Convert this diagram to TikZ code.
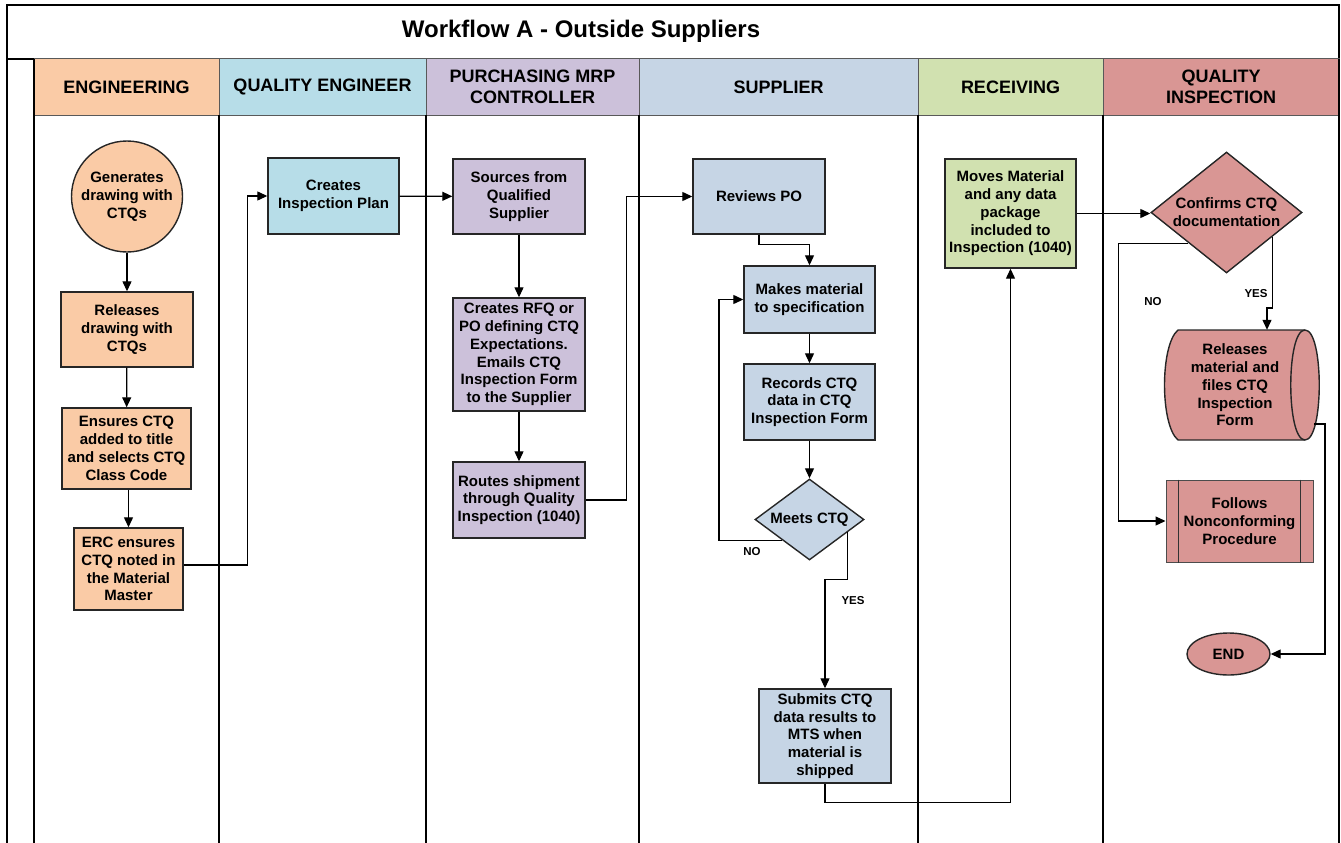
\documentclass[tikz,border=0pt]{standalone}
\usepackage{fontspec}
\setmainfont{Liberation Sans}
\usetikzlibrary{shapes.geometric,arrows.meta,calc}
\definecolor{cEng}{HTML}{FACBA6}
\definecolor{cQE}{HTML}{B7DDE8}
\definecolor{cPur}{HTML}{CCC1DA}
\definecolor{cSup}{HTML}{C6D5E5}
\definecolor{cRec}{HTML}{D1E1B0}
\definecolor{cQI}{HTML}{D99694}
\newcommand\bodyf{\fontsize{15}{17.8}\selectfont\bfseries}
\newcommand\hdrf{\fontsize{18}{21.5}\selectfont\bfseries}
\newcommand\lblf{\fontsize{11.5}{13}\selectfont\bfseries}
\begin{document}
\begin{tikzpicture}[x=1pt,y=-1pt,
  box/.style={draw=black!85, line width=1.4pt, align=center, font=\bodyf, inner sep=0pt},
  hdr/.style={draw=black!65, line width=1pt, align=center, font=\hdrf, minimum height=56pt, inner sep=0pt},
  conn/.style={line width=1.2pt, black},
  arr/.style={conn, -{Triangle[length=10pt,width=9pt]}},
  lbl/.style={font=\lblf, inner sep=0pt},
  lane/.style={line width=1.2pt, black}]
\useasboundingbox (0,0) rectangle (1341,843);

% frame and title
\draw[lane] (7,5) rectangle (1339,59);
\node[font=\fontsize{24}{28}\selectfont\bfseries] (title) at (581,31) {Workflow A - Outside Suppliers};

% lane headers
\node[hdr, fill=cEng, minimum width=185pt] (hEng) at (126.5,87) {ENGINEERING};
\node[hdr, fill=cQE, minimum width=207pt] (hQE) at (322.5,87) {QUALITY ENGINEER};
\node[hdr, fill=cPur, minimum width=213pt] (hPur) at (532.5,87) {PURCHASING MRP\\CONTROLLER};
\node[hdr, fill=cSup, minimum width=279pt] (hSup) at (778.5,87) {SUPPLIER};
\node[hdr, fill=cRec, minimum width=185pt] (hRec) at (1010.5,87) {RECEIVING};
\node[hdr, fill=cQI, minimum width=236pt] (hQI) at (1221,87) {QUALITY\\INSPECTION};

% lane lines
\draw[lane, line width=1.6pt] (7,59) -- (7,843);
\draw[lane] (34,59) -- (34,843);
\draw[lane] (1339,59) -- (1339,843);
\foreach \x in {219,426,639,918,1103} \draw[lane] (\x,115) -- (\x,843);

% ENGINEERING
\node[box, circle, fill=cEng, minimum size=111pt] (gen) at (127,196.5) {Generates\\drawing with\\CTQs};
\node[box, fill=cEng, minimum width=132pt, minimum height=75pt] (rel) at (127,329.5) {Releases\\drawing with\\CTQs};
\node[box, fill=cEng, minimum width=129pt, minimum height=81pt] (ens) at (126.5,448.5) {Ensures CTQ\\added to title\\and selects CTQ\\Class Code};
\node[box, fill=cEng, minimum width=109pt, minimum height=82pt] (erc) at (128.5,569) {ERC ensures\\CTQ noted in\\the Material\\Master};

% QUALITY ENGINEER
\node[box, fill=cQE, minimum width=131pt, minimum height=76pt] (cip) at (333.5,196) {Creates\\Inspection Plan};

% PURCHASING
\node[box, fill=cPur, minimum width=132pt, minimum height=75pt] (src) at (519,196.5) {Sources from\\Qualified\\Supplier};
\node[box, fill=cPur, minimum width=132pt, minimum height=113pt] (rfq) at (519,354.5) {Creates RFQ or\\PO defining CTQ\\Expectations.\\Emails CTQ\\Inspection Form\\to the Supplier};
\node[box, fill=cPur, minimum width=132pt, minimum height=76pt] (rts) at (519,500) {Routes shipment\\through Quality\\Inspection (1040)};

% SUPPLIER
\node[box, fill=cSup, minimum width=132pt, minimum height=75pt] (rev) at (759,196.5) {Reviews PO};
\node[box, fill=cSup, minimum width=131pt, minimum height=67pt] (mak) at (809.5,299.5) {Makes material\\to specification};
\node[box, fill=cSup, minimum width=131pt, minimum height=76pt] (rec) at (809.5,402) {Records CTQ\\data in CTQ\\Inspection Form};
\node[box, diamond, shape aspect=1.35, fill=cSup, minimum width=109pt, minimum height=81pt] (meets) at (809.5,519.5) {Meets CTQ};
\node[box, fill=cSup, minimum width=132pt, minimum height=94pt] (sub) at (825,736) {Submits CTQ\\data results to\\MTS when\\material is\\shipped};

% RECEIVING
\node[box, fill=cRec, minimum width=131pt, minimum height=109pt] (mov) at (1010.5,213.5) {Moves Material\\and any data\\package\\included to\\Inspection (1040)};

% QUALITY INSPECTION
\node[box, diamond, shape aspect=1.25, fill=cQI, minimum width=151pt, minimum height=121pt] (conf) at (1226.5,212.5) {Confirms CTQ\\documentation};
\filldraw[fill=cQI, draw=black!85, line width=1.4pt] (1178,330) -- (1305,330) .. controls (1324,330) and (1324,440) .. (1305,440) -- (1178,440) .. controls (1160,425) and (1160,345) .. (1178,330) -- cycle;
\draw[black!85, line width=1.4pt] (1305,330) .. controls (1286,330) and (1286,440) .. (1305,440);
\node[font=\bodyf, align=center, inner sep=0pt, minimum width=140pt, minimum height=110pt] (cyl) at (1235,385) {Releases\\material and\\files CTQ\\Inspection\\Form};
\coordinate (cylout) at (1314,424);
\node[box, fill=cQI, draw=black!70, line width=1pt, minimum width=147pt, minimum height=82pt] (fol) at (1239.5,521) {Follows\\Nonconforming\\Procedure};
\draw[black!80, line width=1pt] ([xshift=13pt]fol.north west) -- ([xshift=13pt]fol.south west);
\draw[black!80, line width=1pt] ([xshift=-13pt]fol.north east) -- ([xshift=-13pt]fol.south east);
\node[box, ellipse, fill=cQI, minimum width=83pt, minimum height=42pt] (end) at (1228.5,654) {END};

% connectors
\draw[arr] (gen) -- (rel);
\draw[arr] (rel) -- (ens);
\draw[arr] (erc.north |- ens.south) -- (erc.north);
\draw[arr] ([yshift=4pt]erc.east) -- ++(64,0) |- (cip.west);
\draw[arr] (cip) -- (src);
\draw[arr] (src) -- (rfq);
\draw[arr] (rfq) -- (rts);
\draw[arr] (rts.east) -- ++(41,0) |- (rev.west);
\draw[arr] (rev.south) -- ++(0,10) -| (mak.north);
\draw[arr] (mak) -- (rec);
\draw[arr] (rec) -- (meets);
\draw[arr] (meets.south west) -- ++(-63,0) |- (mak.west);
\draw[arr] ($(meets.east)!0.31!(meets.south)$) -- ++(0,47) -| (sub.north);
\draw[arr] (sub.south) -- ++(0,19) -| (mov.south);
\draw[arr] (mov.east) -- (mov.east -| conf.west);
\draw[arr] ($(conf.east)!0.4!(conf.south)$) -- ++(0,71) -| ([xshift=32pt]cyl.north);
\draw[arr] (conf.south west) -- ++(-70,0) |- (fol.west);
\draw[arr] (cylout) -- ++(11,0) |- (end.east);

% labels
\node[lbl] (no1) at (752,552) {NO};
\node[lbl] (yes1) at (853,601) {YES};
\node[lbl] (yes2) at (1256,294) {YES};
\node[lbl] (no2) at (1153,302) {NO};
\end{tikzpicture}
\end{document}
